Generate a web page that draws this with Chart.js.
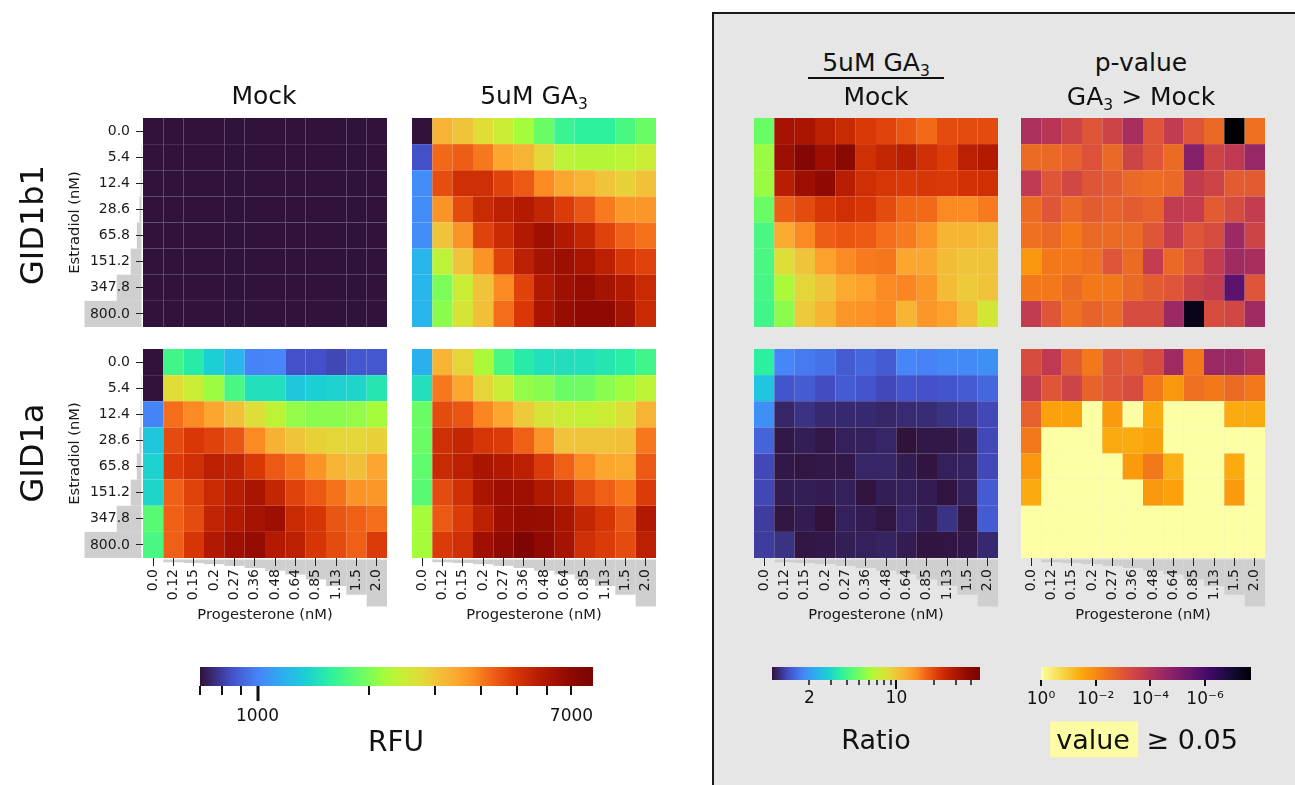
<!DOCTYPE html>
<html><head><meta charset="utf-8">
<script src="https://cdn.jsdelivr.net/npm/chart.js@4.4.1/dist/chart.umd.min.js"></script>
<style>
html,body{margin:0;padding:0;}
body{width:1295px;height:785px;background:#fff;position:relative;overflow:hidden;font-family:'DejaVu Sans',sans-serif;color:#111;}
#panel{position:absolute;left:712px;top:12px;width:640px;height:820px;background:#e6e6e6;border:2px solid #1a1a1a;box-sizing:border-box;}
.t{position:absolute;white-space:nowrap;line-height:1;transform:translate(-50%,-50%);}
.sub{font-size:0.62em;position:relative;top:0.32em;}
</style></head>
<body>
<div id="panel"></div>
<script>
// ---------------- data ----------------
const estradiol = ['0.0','5.4','12.4','28.6','65.8','151.2','347.8','800.0'];
const estradiolNM = [0,5.4,12.4,28.6,65.8,151.2,347.8,800];
const progesterone = ['0.0','0.12','0.15','0.2','0.27','0.36','0.48','0.64','0.85','1.13','1.5','2.0'];
const progesteroneNM = [0,0.12,0.15,0.2,0.27,0.36,0.48,0.64,0.85,1.13,1.5,2.0];

// RFU, GID1b1, Mock (rows = estradiol, cols = progesterone)
const rfuMockGID1b1 = [
 [650,650,650,650,650,650,650,650,650,650,650,650],
 [650,650,650,650,650,650,650,650,650,650,650,650],
 [650,650,650,650,650,650,650,650,650,650,650,650],
 [650,650,650,650,650,650,650,650,650,650,650,650],
 [650,650,650,650,650,650,650,650,650,650,650,650],
 [650,650,650,650,650,650,650,650,650,650,650,650],
 [650,650,650,650,650,650,650,650,650,650,650,650],
 [650,650,650,650,650,650,650,650,650,650,650,650]];
// RFU, GID1b1, 5uM GA3
const rfuGA3GID1b1 = [
 [650,3250,3020,2740,2490,2200,1900,1640,1580,1580,1720,1900],
 [850,4200,4350,4040,3450,3250,2810,2370,2310,2310,2370,2490],
 [1030,4570,5160,5160,4740,4400,3850,3450,3250,3020,2880,3060],
 [1030,3710,4620,5290,5620,5830,5420,4860,4460,4000,3670,3670],
 [1030,3020,3710,4740,5290,5900,6430,5900,5420,4740,4300,4090],
 [1200,2370,3020,3710,4740,5620,6270,6500,6120,5620,4980,4740],
 [1200,1990,2490,3020,3850,4740,5900,6430,6660,6270,5830,5290],
 [1200,2070,2610,3090,4140,4920,6120,6660,6910,6910,6270,5290]];
// RFU, GID1a, Mock
const rfuMockGID1a = [
 [650,1680,1530,1350,1210,1000,1010,850,850,830,870,870],
 [650,2740,2490,2150,1720,1450,1450,1300,1350,1370,1390,1490],
 [1000,4140,3850,3450,3090,2710,2370,2100,2050,2050,2100,2200],
 [1300,4620,4920,4740,4460,3850,3290,3020,2880,2810,2810,2880],
 [1370,4860,5160,5620,5480,4920,4400,4090,3710,3250,3090,3450],
 [1390,4300,4740,5290,5690,6120,5420,4740,4400,4090,3710,3670],
 [1810,4300,4620,5480,5830,6270,6500,5290,4980,4460,4300,4140],
 [1720,4300,4980,5900,6430,6750,5830,5620,4980,4620,4300,4860]];
// RFU, GID1a, 5uM GA3
const rfuGA3GID1a = [
 [1180,3250,2810,2250,1720,1530,1450,1440,1450,1490,1550,1680],
 [1450,4040,3450,2810,2490,2100,2050,1900,1920,2050,2170,2370],
 [1900,4620,4460,3900,3450,2950,2640,2490,2400,2490,2710,3250],
 [1900,5160,5420,4980,4860,4300,3710,3020,3020,3020,3090,4040],
 [1850,5290,5620,6120,5900,5620,4860,4300,3850,3450,3410,4400],
 [1810,4620,5160,6120,6500,6430,5900,5480,4620,4300,4040,4860],
 [2200,4400,4860,5620,6500,6750,6660,6120,5420,4980,4460,5900],
 [2200,4860,5160,6430,6910,7800,6910,6270,5160,4860,4620,5620]];
// Ratio GA3 / Mock
const ratioGID1b1 = [
 [4.85,32.0,30.8,26.9,24.4,21.7,20.5,18.6,16.9,19.7,19.7,19.7],
 [5.88,33.9,41.9,33.9,39.5,23.5,25.4,27.4,23.5,21.3,26.9,28.5],
 [5.88,27.4,33.9,37.3,27.4,23.5,22.1,21.7,22.1,21.7,23.0,23.5],
 [4.85,17.9,19.7,22.1,23.5,22.1,19.7,17.2,16.9,14.8,14.8,15.7],
 [4.16,12.2,14.8,17.9,18.6,18.3,16.6,15.7,14.0,11.3,11.3,10.7],
 [4.16,8.5,10.1,12.9,14.8,15.7,16.0,12.5,12.5,10.7,10.1,10.1],
 [4.08,6.35,9.0,10.1,12.2,12.9,14.8,15.1,13.7,10.7,9.7,10.1],
 [4.0,5.55,9.7,11.3,13.7,14.0,14.8,11.3,13.7,12.9,10.5,7.85]];
const ratioGID1a = [
 [3.56,1.78,1.68,1.62,1.44,1.53,1.44,1.78,1.75,1.82,1.82,1.89],
 [2.62,1.39,1.44,1.34,1.44,1.39,1.31,1.39,1.36,1.39,1.44,1.53],
 [1.89,1.10,1.17,1.12,1.12,1.12,1.10,1.13,1.14,1.17,1.21,1.31],
 [1.50,1.03,1.06,1.03,1.07,1.07,1.10,1.00,1.03,1.03,1.06,1.31],
 [1.31,1.03,1.02,1.03,1.03,1.10,1.10,1.05,1.01,1.07,1.09,1.31],
 [1.30,1.05,1.06,1.05,1.07,1.01,1.06,1.07,1.05,1.01,1.07,1.44],
 [1.24,1.02,1.05,0.98,1.07,1.05,1.02,1.10,1.05,1.17,1.02,1.44],
 [1.24,1.17,1.02,1.03,1.06,1.07,1.09,1.05,1.01,1.02,1.03,1.12]];
// p-value GA3 > Mock
const pGID1b1 = [
 [7.1e-5,1.2e-4,3.5e-4,1.0e-3,3.5e-4,6.0e-5,1.0e-3,2.0e-4,1.0e-3,2.5e-3,1.0e-8,3.5e-3],
 [2.7e-3,2.5e-3,1.7e-3,8.5e-4,2.5e-3,3.5e-4,1.0e-3,2.7e-3,1.4e-5,3.5e-4,1.7e-4,3.0e-5],
 [1.7e-4,1.0e-3,4.2e-4,1.0e-3,1.4e-3,2.5e-3,3.0e-3,2.5e-3,2.0e-4,3.5e-4,1.4e-3,1.4e-3],
 [2.7e-3,1.0e-3,2.5e-3,1.4e-3,1.9e-3,1.4e-3,1.9e-3,2.0e-4,2.2e-4,1.4e-3,5.9e-4,2.2e-4],
 [3.5e-3,2.5e-3,5.0e-3,2.5e-3,2.7e-3,2.7e-3,1.0e-3,2.2e-4,1.0e-3,5.9e-4,3.5e-5,3.5e-4],
 [1.7e-2,5.0e-3,5.0e-3,3.5e-3,1.0e-3,2.7e-3,2.2e-4,2.5e-3,1.0e-3,2.2e-4,4.2e-5,6.0e-5],
 [5.0e-3,5.0e-3,2.7e-3,5.0e-3,5.0e-3,2.5e-3,1.4e-3,1.0e-3,3.5e-4,2.2e-4,2.1e-6,1.0e-3],
 [2.0e-4,1.0e-3,3.5e-3,1.9e-3,2.7e-3,5.9e-4,5.9e-4,3.5e-5,4.3e-8,5.9e-4,4.2e-4,4.2e-5]];
const pGID1a = [
 [5.9e-4,1.7e-4,1.4e-3,5.0e-3,1.0e-3,1.4e-3,5.9e-4,4.2e-5,5.0e-3,3.5e-5,3.5e-5,7.1e-5],
 [2.0e-4,1.0e-3,3.5e-4,1.9e-3,1.0e-3,5.9e-4,5.0e-3,1.7e-2,3.5e-3,5.0e-3,2.7e-3,5.0e-3],
 [1.7e-3,2.5e-2,2.5e-2,0.5,2.0e-2,0.5,3.5e-2,0.5,0.5,0.5,3.5e-2,3.5e-2],
 [5.0e-3,0.5,0.5,0.5,3.5e-2,3.5e-2,2.5e-2,0.5,0.5,0.5,0.5,0.5],
 [1.7e-2,0.5,0.5,0.5,0.5,2.0e-2,5.0e-3,4.2e-2,0.5,0.5,3.5e-2,0.5],
 [3.5e-2,0.5,0.5,0.5,0.5,0.5,1.7e-2,2.5e-2,0.5,0.5,2.0e-2,0.5],
 [0.5,0.5,0.5,0.5,0.5,0.5,0.5,0.5,0.5,0.5,0.5,0.5],
 [0.5,0.5,0.5,0.5,0.5,0.5,0.5,0.5,0.5,0.5,0.5,0.5]];

// colour-bar ranges and ticks
const rfuRange = [700, 8000];
const rfuTicks = [700,800,900,1000,2000,3000,4000,5000,6000,7000];
const rfuLabels = [1000, 7000];
const ratioRange = [1, 47];
const ratioTicks = [2,3,4,5,6,7,8,9,10,20,30,40];
const ratioLabels = [2, 10];
const pRange = [Math.pow(10,-7.68), 1];
const pTicks = [1, 1e-2, 1e-4, 1e-6];
const pCutoff = 0.05;

// ---------------- colour maps ----------------
const turboStops = [[0,'#30123b'],[0.08,'#4450c8'],[0.15,'#4686f8'],[0.22,'#28b4ec'],[0.27,'#1ccfd4'],[0.33,'#2bf0a0'],[0.40,'#60fc6c'],[0.47,'#a4fc3b'],[0.51,'#c4f034'],[0.56,'#e0dc38'],[0.60,'#f0c43a'],[0.65,'#fbaa30'],[0.70,'#fb8a22'],[0.735,'#f26818'],[0.77,'#e64e10'],[0.80,'#d93806'],[0.83,'#c82a04'],[0.87,'#b41a01'],[0.91,'#a01002'],[0.94,'#8f0a02'],[1,'#7a0403']];
const infernoStops = [[0,'#000004'],[0.1,'#160b39'],[0.2,'#420a68'],[0.3,'#6a176e'],[0.4,'#932667'],[0.5,'#bc3754'],[0.6,'#dd513a'],[0.7,'#f37819'],[0.8,'#fca50a'],[0.9,'#f6d746'],[1,'#fcffa4']];
function hex(h){return [parseInt(h.slice(1,3),16),parseInt(h.slice(3,5),16),parseInt(h.slice(5,7),16)];}
function makeMap(stops){
  const s = stops.map(([t,h])=>[t,hex(h)]);
  return function(t){
    t = Math.max(0, Math.min(1, t));
    let i = 0; while (i < s.length-2 && t > s[i+1][0]) i++;
    const [t0,c0] = s[i], [t1,c1] = s[i+1];
    const f = (t - t0) / (t1 - t0);
    return `rgb(${c0.map((v,k)=>Math.round(v + (c1[k]-v)*f)).join(',')})`;
  };
}
const turbo = makeMap(turboStops), inferno = makeMap(infernoStops);
const rfuColor = v => turbo(Math.log(v/rfuRange[0]) / Math.log(rfuRange[1]/rfuRange[0]));
const ratioColor = v => turbo(Math.log(v/ratioRange[0]) / Math.log(ratioRange[1]/ratioRange[0]));
const pColor = p => p >= pCutoff ? inferno(1) : inferno(1 - (-Math.log10(p)) / (-Math.log10(pRange[0])));

// ---------------- helpers ----------------
Chart.defaults.font.family = "'DejaVu Sans', sans-serif";
Chart.defaults.color = '#1a1a1a';
Chart.defaults.animation = false;

function addCanvas(l, t, w, h){
  const c = document.createElement('canvas');
  c.width = w; c.height = h;
  c.style.cssText = `position:absolute;left:${l}px;top:${t}px;width:${w}px;height:${h}px;`;
  document.body.appendChild(c);
  return c;
}

const stairPlugin = {
  id: 'stairs',
  beforeDraw(chart, args, o){
    const {ctx, chartArea: a, scales: {x, y}} = chart;
    ctx.save(); ctx.fillStyle = '#cfcfcf';
    if (o.yStairs){
      estradiolNM.forEach((c, r) => {
        const w = c / 800 * 57; if (w <= 0) return;
        const yt = y.getPixelForValue(8 - r), yb = y.getPixelForValue(7 - r);
        ctx.fillRect(a.left - 1.5 - w, yt, w, yb - yt);
      });
    }
    if (o.xStairs){
      const half = (x.getPixelForValue(1) - x.getPixelForValue(0)) / 2;
      progesteroneNM.forEach((c, i) => {
        const h = c / 2 * 47; if (h <= 0) return;
        const xc = x.getPixelForValue(i);
        ctx.fillRect(xc - half, a.bottom + 1.5, 2 * half, h);
      });
    }
    ctx.restore();
  }
};

const TICK_FONT = 14, TITLE_FONT = 14.7;
function heatmap(matrix, colorFn, hx, hy, showY, showX){
  const yW = showY ? 77 : 0, xH = showX ? 66 : 0, P = 24;
  const W = P + yW + 244 + P, H = P + 209 + xH + P;
  const cv = addCanvas(hx - yW - P, hy - P, W, H);
  const datasets = [];
  for (let r = 7; r >= 0; r--){
    datasets.push({
      data: matrix[r].map(() => 1),
      backgroundColor: matrix[r].map(colorFn),
      borderWidth: 0, inflateAmount: 0,
      barPercentage: 1, categoryPercentage: 1
    });
  }
  new Chart(cv, {
    type: 'bar',
    data: {labels: progesterone, datasets},
    options: {
      responsive: false, devicePixelRatio: 1, events: [],
      layout: {padding: {left: P, right: P, top: P, bottom: P}},
      plugins: {legend: {display: false}, tooltip: {enabled: false}, stairs: {yStairs: showY, xStairs: showX}},
      scales: {
        x: {
          type: 'category', stacked: true, offset: true, display: showX,
          grid: {display: true, offset: false, drawOnChartArea: false, drawTicks: true, tickLength: 8, color: '#222', lineWidth: 1},
          border: {display: false},
          ticks: {minRotation: 90, maxRotation: 90, autoSkip: false, padding: 3, font: {size: TICK_FONT}, color: '#1a1a1a'},
          title: {display: true, text: 'Progesterone (nM)', font: {size: TITLE_FONT}, padding: 0, color: '#1a1a1a'},
          afterFit(s){ s.height = xH; }
        },
        y: {
          type: 'linear', min: 0, max: 8, stacked: true, display: showY,
          afterBuildTicks(s){ s.ticks = [7.5,6.5,5.5,4.5,3.5,2.5,1.5,0.5].map(v => ({value: v})); },
          ticks: {callback: v => estradiol[7 - Math.floor(v)], padding: 6, font: {size: TICK_FONT}, color: '#1a1a1a', autoSkip: false},
          grid: {display: true, drawOnChartArea: false, drawTicks: true, tickLength: 7, color: '#222', lineWidth: 1},
          border: {display: false},
          title: {display: true, text: 'Estradiol (nM)', font: {size: TITLE_FONT}, padding: 0, color: '#1a1a1a'},
          afterFit(s){ s.width = yW; }
        }
      }
    },
    plugins: [stairPlugin]
  });
}

function colorbar(c){
  const P = 24, PT = 10, XH = 40;
  const cv = addCanvas(c.l - P, c.top - PT, (c.r - c.l) + 2 * P, PT + c.h + XH);
  new Chart(cv, {
    type: 'scatter',
    data: {datasets: []},
    options: {
      responsive: false, devicePixelRatio: 1, events: [],
      layout: {padding: {left: P, right: P, top: PT, bottom: 0}},
      plugins: {legend: {display: false}, tooltip: {enabled: false}},
      scales: {
        x: {
          type: 'logarithmic', min: c.min, max: c.max, reverse: !!c.reverse, position: 'bottom',
          afterBuildTicks(s){ s.ticks = c.labels.map(v => ({value: v})); },
          ticks: {callback: v => c.fmt(v), autoSkip: false, minRotation: 0, maxRotation: 0, padding: c.pad, font: {size: 17}, color: '#111'},
          grid: {display: true, drawOnChartArea: false, drawTicks: true, tickLength: c.tl, color: 'rgba(0,0,0,0)'},
          border: {display: false},
          afterFit(s){ s.height = XH; }
        },
        y: {display: false, min: 0, max: 1}
      }
    },
    plugins: [{
      id: 'cbar',
      beforeDatasetsDraw(chart){
        const {ctx, chartArea: a} = chart;
        const g = ctx.createLinearGradient(a.left, 0, a.right, 0);
        for (let i = 0; i <= 64; i++) g.addColorStop(i / 64, c.grad(i / 64));
        ctx.save(); ctx.fillStyle = g; ctx.fillRect(a.left, a.top, a.right - a.left, a.bottom - a.top); ctx.restore();
      },
      afterDraw(chart){
        const {ctx, chartArea: a, scales: {x}} = chart;
        ctx.save(); ctx.strokeStyle = '#111';
        c.ticks.forEach(v => {
          const px = Math.round(x.getPixelForValue(v));
          const [len, w] = c.tick(v);
          ctx.lineWidth = w;
          ctx.beginPath(); ctx.moveTo(px, a.bottom); ctx.lineTo(px, a.bottom + len); ctx.stroke();
        });
        ctx.restore();
      }
    }]
  });
}

// ---------------- heatmaps ----------------
heatmap(rfuMockGID1b1, rfuColor, 143, 118, true, false);
heatmap(rfuGA3GID1b1, rfuColor, 412, 118, false, false);
heatmap(rfuMockGID1a, rfuColor, 143, 349, true, true);
heatmap(rfuGA3GID1a, rfuColor, 412, 349, false, true);
heatmap(ratioGID1b1, ratioColor, 754, 118, false, false);
heatmap(pGID1b1, pColor, 1021, 118, false, false);
heatmap(ratioGID1a, ratioColor, 754, 349, false, true);
heatmap(pGID1a, pColor, 1021, 349, false, true);

// ---------------- colour bars ----------------
colorbar({l: 200, r: 593, top: 667, h: 19, min: rfuRange[0], max: rfuRange[1], labels: rfuLabels, ticks: rfuTicks,
  fmt: v => String(v), pad: 10, tl: 10, grad: s => turbo(s), tick: v => v === 1000 ? [15, 3] : [9, 2]});
colorbar({l: 772, r: 980, top: 667, h: 13, min: ratioRange[0], max: ratioRange[1], labels: ratioLabels, ticks: ratioTicks,
  fmt: v => String(v), pad: 4, tl: 4, grad: s => turbo(s), tick: v => v === 10 ? [9, 2] : [5, 1.5]});
const sup = {'0':'⁰','2':'²','4':'⁴','6':'⁶','-':'⁻'};
colorbar({l: 1041, r: 1251, top: 667, h: 13, min: pRange[0], max: pRange[1], reverse: true, labels: pTicks, ticks: pTicks,
  fmt: v => '10' + String(Math.round(Math.log10(v))).split('').map(ch => sup[ch]).join(''), pad: 4, tl: 5,
  grad: s => inferno(1 - s), tick: v => [6, 2]});

// ---------------- text ----------------
function text(html, cx, cy, size, extra){
  const d = document.createElement('div');
  d.className = 't'; d.innerHTML = html;
  d.style.left = cx + 'px'; d.style.top = cy + 'px'; d.style.fontSize = size + 'px';
  if (extra) d.style.cssText += extra;
  document.body.appendChild(d);
  return d;
}
const GA3 = 'GA<span class="sub">3</span>';
text('Mock', 264, 95, 25);
text('5uM ' + GA3, 534, 95, 25);
text('GID1b1', 32, 225, 32, 'transform:translate(-50%,-50%) rotate(-90deg);');
text('GID1a', 32, 453, 32, 'transform:translate(-50%,-50%) rotate(-90deg);');
text('5uM ' + GA3, 876, 62, 25);
const line = document.createElement('div');
line.style.cssText = 'position:absolute;left:808px;top:77px;width:136px;height:2px;background:#111;';
document.body.appendChild(line);
text('Mock', 876, 96, 25);
text('p-value', 1141, 62, 25);
text(GA3 + ' &gt; Mock', 1141, 96, 25);
text('RFU', 396, 742, 28);
text('Ratio', 876, 739, 27);
text('<span style="background:#fcfca4;padding:2px 8px 3px 6px;">value</span> ≥ 0.05', 1144, 739, 27);
</script>
</body></html>
